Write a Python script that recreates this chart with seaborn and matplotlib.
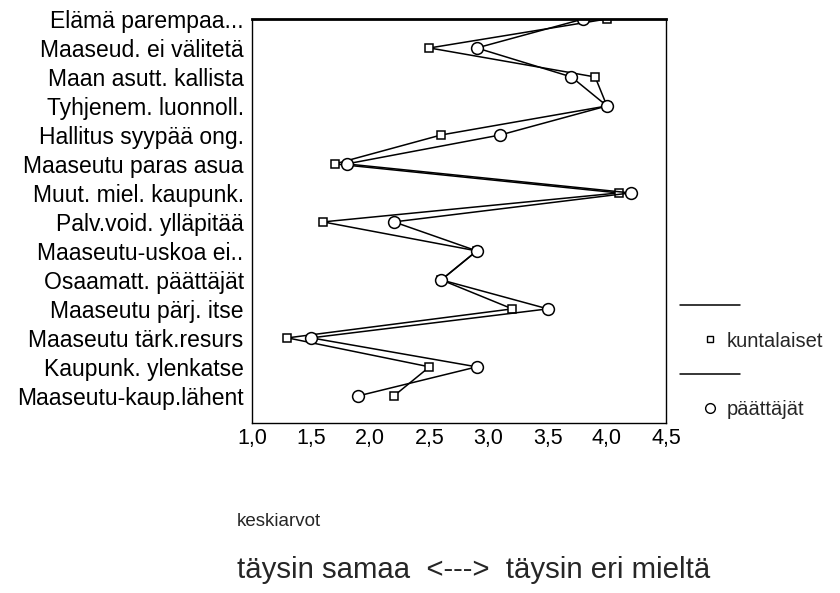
import matplotlib
matplotlib.use("Agg")
import matplotlib.pyplot as plt
from matplotlib.lines import Line2D
import seaborn as sns
import pandas as pd

categories = [
    "Elämä parempaa...",
    "Maaseud. ei välitetä",
    "Maan asutt. kallista",
    "Tyhjenem. luonnoll.",
    "Hallitus syypää ong.",
    "Maaseutu paras asua",
    "Muut. miel. kaupunk.",
    "Palv.void. ylläpitää",
    "Maaseutu-uskoa ei..",
    "Osaamatt. päättäjät",
    "Maaseutu pärj. itse",
    "Maaseutu tärk.resurs",
    "Kaupunk. ylenkatse",
    "Maaseutu-kaup.lähent",
]
kuntalaiset = [4.0, 2.5, 3.9, 4.0, 2.6, 1.7, 4.1, 1.6, 2.9, 2.6, 3.2, 1.3, 2.5, 2.2]
paattajat = [3.8, 2.9, 3.7, 4.0, 3.1, 1.8, 4.2, 2.2, 2.9, 2.6, 3.5, 1.5, 2.9, 1.9]
series_names = ["kuntalaiset", "päättäjät"]
x_ticks = [1.0, 1.5, 2.0, 2.5, 3.0, 3.5, 4.0, 4.5]
x_tick_labels = ["1,0", "1,5", "2,0", "2,5", "3,0", "3,5", "4,0", "4,5"]

sns.set_theme(style="white")
plt.rcParams["font.family"] = ["Liberation Sans", "DejaVu Sans"]

rows = []
for name, vals in zip(series_names, [kuntalaiset, paattajat]):
    for i, v in enumerate(vals):
        rows.append({"sarja": name, "pos": i, "arvo": v})
df = pd.DataFrame(rows)

fig = plt.figure(figsize=(8.4, 5.93), dpi=100)
ax = fig.add_axes([0.30, 0.287, 0.493, 0.681])

sns.lineplot(
    data=df, x="arvo", y="pos", hue="sarja", style="sarja",
    markers={"kuntalaiset": "s", "päättäjät": "o"},
    dashes=False, sort=False, estimator=None, orient="y",
    palette={"kuntalaiset": "black", "päättäjät": "black"},
    markerfacecolor="white", markeredgecolor="black", markeredgewidth=1.1,
    linewidth=1.1, legend=False, ax=ax,
)
for line, ms in zip(ax.get_lines(), [5.5, 8.5]):
    line.set_markersize(ms)

ax.set_xlim(1.0, 4.5)
ax.set_ylim(13.93, 0)
ax.set_xticks(x_ticks)
ax.set_xticklabels(x_tick_labels, fontsize=15.5)
ax.set_yticks(range(len(categories)))
ax.set_yticklabels(categories, fontsize=16.5)
ax.set_xlabel("")
ax.set_ylabel("")
ax.tick_params(axis="y", direction="out", length=4, width=1, color="black", pad=2, labelcolor="black")
ax.tick_params(axis="x", direction="in", length=4, width=1, color="black", pad=4, labelcolor="black")
for side, sp in ax.spines.items():
    sp.set_visible(True)
    sp.set_color("black")
    sp.set_linewidth(1.0)
ax.spines["top"].set_linewidth(2.0)

handles = [
    Line2D([], [], color="black", linewidth=1.1),
    Line2D([], [], linestyle="none", marker="s", markersize=5, markerfacecolor="white", markeredgecolor="black"),
    Line2D([], [], color="black", linewidth=1.1),
    Line2D([], [], linestyle="none", marker="o", markersize=7, markerfacecolor="white", markeredgecolor="black"),
]
labels = ["", series_names[0], "", series_names[1]]
fig.legend(handles, labels, loc="upper left", bbox_to_anchor=(0.80, 0.512),
           frameon=False, fontsize=14.5, handlelength=3.0, handletextpad=-0.7,
           labelspacing=0.75, borderaxespad=0)

fig.text(0.282, 0.12, "keskiarvot", fontsize=13.5, va="center", ha="left")
fig.text(0.282, 0.038, "täysin samaa  <--->  täysin eri mieltä", fontsize=21.2, va="center", ha="left")

fig.savefig("out.png", dpi=100)
